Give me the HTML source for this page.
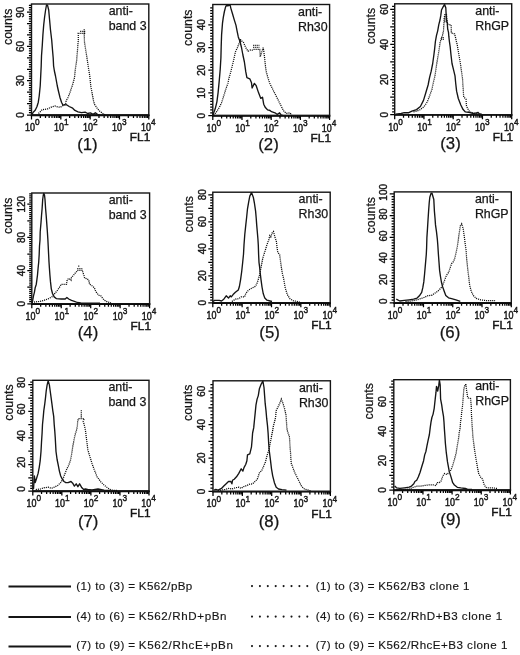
<!DOCTYPE html>
<html><head><meta charset="utf-8"><style>
html,body{margin:0;padding:0;background:#fff;}
svg{display:block;will-change:transform;}
text{font-family:"Liberation Sans",sans-serif;fill:#151515;stroke:#151515;stroke-width:0.25px;}
.tl{font-size:10px;stroke-width:0.4px;}
.xl{font-size:10.2px;stroke-width:0.45px;}
.sup{font-size:9.4px;}
.ax{font-size:12.4px;}
.fl{font-size:11.8px;letter-spacing:0.1px;stroke-width:0.45px;}
.pn{font-size:16.8px;}
.lg{font-size:11.6px;letter-spacing:0.4px;stroke-width:0.15px;}
</style></head><body>
<svg width="520" height="655" viewBox="0 0 520 655">
<rect width="520" height="655" fill="#fff"/>
<path d="M27 115H31.5M28.9 112.71H31.5M28.9 110.43H31.5M28.9 108.14H31.5M28.9 105.86H31.5M27 103.57H31.5M28.9 101.28H31.5M28.9 99H31.5M28.9 96.71H31.5M28.9 94.43H31.5M27 92.14H31.5M28.9 89.85H31.5M28.9 87.57H31.5M28.9 85.28H31.5M28.9 83H31.5M27 80.71H31.5M28.9 78.42H31.5M28.9 76.14H31.5M28.9 73.85H31.5M28.9 71.57H31.5M27 69.28H31.5M28.9 66.99H31.5M28.9 64.71H31.5M28.9 62.42H31.5M28.9 60.14H31.5M27 57.85H31.5M28.9 55.56H31.5M28.9 53.28H31.5M28.9 50.99H31.5M28.9 48.71H31.5M27 46.42H31.5M28.9 44.13H31.5M28.9 41.85H31.5M28.9 39.56H31.5M28.9 37.28H31.5M27 34.99H31.5M28.9 32.7H31.5M28.9 30.42H31.5M28.9 28.13H31.5M28.9 25.85H31.5M27 23.56H31.5M28.9 21.27H31.5M28.9 18.99H31.5M28.9 16.7H31.5M28.9 14.42H31.5M27 12.13H31.5M28.9 9.84H31.5M28.9 7.56H31.5M28.9 5.27H31.5M31.5 115V119.5M40.33 115V118M45.49 115V118M49.16 115V118M52 115V118M54.32 115V118M56.28 115V118M57.98 115V118M59.48 115V118M60.83 115V119.5M69.65 115V118M74.82 115V118M78.48 115V118M81.32 115V118M83.64 115V118M85.61 115V118M87.31 115V118M88.81 115V118M90.15 115V119.5M98.98 115V118M104.14 115V118M107.81 115V118M110.65 115V118M112.97 115V118M114.93 115V118M116.63 115V118M118.13 115V118M119.48 115V119.5M128.3 115V118M133.47 115V118M137.13 115V118M139.97 115V118M142.29 115V118M144.26 115V118M145.96 115V118M147.46 115V118M148.8 115V119.5" stroke="#000" stroke-width="1.25" fill="none"/>
<path d="M30.8 115.2H149.5" stroke="#000" stroke-width="1.9" fill="none"/>
<rect x="31.5" y="4" width="117.3" height="111" fill="none" stroke="#151515" stroke-width="1.4"/>
<polyline points="38.5,113.5 40,112 42.1,109.7 47.3,109 51.9,106.8 55,106 58,107 60.3,107.3 64.6,104.5 65.6,104.2 66.1,100.7 67.8,98 69.6,93.6 71.4,88.3 73.1,83 74.5,77.7 75.4,68.8 76.7,60 77.5,50 78.3,40 78.3,35 78.2,33.3 84.6,33.3 84.6,31.4 79.6,31.4" fill="none" stroke="#0a0a0a" stroke-width="1.25" stroke-dasharray="1.1 0.95"/>
<polyline points="84.2,29.2 84.2,35 84.5,42 85.4,48 86.5,55 87.3,60 88.6,68.8 90,77.7 90.8,86.5 92.2,93.6 93.5,100.7 94.4,104.2 96,106.5 97.5,108.8 99.9,111.3 102.9,113.5 105.2,114.8" fill="none" stroke="#0a0a0a" stroke-width="1.25" stroke-dasharray="1.1 0.95"/>
<polyline points="31.8,115.2 33,112.5 35.2,110.2 36.9,106.8 38.3,102.2 39.2,96 40.2,86 40.7,76 41.2,66 41.5,56 42.3,45 42.9,35 43.7,25 44.6,17 45.6,10 46.5,5 47.5,5.2 48.7,10 49.6,20 50.5,30 51.7,40 52.5,50 53.2,58 53.6,66 54.4,71 55.5,76 57.3,86 58.3,90.5 59.9,97.2 61.6,102.5 63,105.1 66.5,104.7 69.2,106.5 72.7,108.2 74.9,110.4 78,111.8 81.5,112.7 85.1,112.2 87.7,113.5 90.4,112.9 93,114.4 95.4,112.8 97.7,114.6 100,115.2" fill="none" stroke="#151515" stroke-width="1.35" stroke-linejoin="round"/>
<text class="tl" transform="translate(23.5 115) rotate(-90)" text-anchor="middle">0</text>
<text class="tl" transform="translate(23.5 80.71) rotate(-90)" text-anchor="middle">30</text>
<text class="tl" transform="translate(23.5 46.42) rotate(-90)" text-anchor="middle">60</text>
<text class="tl" transform="translate(23.5 12.13) rotate(-90)" text-anchor="middle">90</text>
<text class="xl" transform="translate(32.4 131) scale(0.88 1)" text-anchor="middle">10<tspan class="sup" dy="-5.8">0</tspan></text>
<text class="xl" transform="translate(61.38 131) scale(0.88 1)" text-anchor="middle">10<tspan class="sup" dy="-5.8">1</tspan></text>
<text class="xl" transform="translate(90.35 131) scale(0.88 1)" text-anchor="middle">10<tspan class="sup" dy="-5.8">2</tspan></text>
<text class="xl" transform="translate(119.33 131) scale(0.88 1)" text-anchor="middle">10<tspan class="sup" dy="-5.8">3</tspan></text>
<text class="xl" transform="translate(148.3 131) scale(0.88 1)" text-anchor="middle">10<tspan class="sup" dy="-5.8">4</tspan></text>
<text class="ax" transform="translate(12 26.8) rotate(-90)" text-anchor="middle">counts</text>
<text class="ax" x="108.7" y="15">anti-</text>
<text class="ax" x="108.7" y="30">band 3</text>
<text class="fl" x="150.4" y="141.3" text-anchor="end">FL1</text>
<text class="pn" x="87.45" y="149.5" text-anchor="middle">(1)</text>
<path d="M208.3 115.6H212.8M210.2 112.76H212.8M210.2 109.92H212.8M210.2 107.09H212.8M210.2 104.25H212.8M210.2 101.41H212.8M210.2 98.57H212.8M210.2 95.74H212.8M208.3 92.9H212.8M210.2 90.06H212.8M210.2 87.22H212.8M210.2 84.39H212.8M210.2 81.55H212.8M210.2 78.71H212.8M210.2 75.88H212.8M210.2 73.04H212.8M208.3 70.2H212.8M210.2 67.36H212.8M210.2 64.53H212.8M210.2 61.69H212.8M210.2 58.85H212.8M210.2 56.01H212.8M210.2 53.17H212.8M210.2 50.34H212.8M208.3 47.5H212.8M210.2 44.66H212.8M210.2 41.83H212.8M210.2 38.99H212.8M210.2 36.15H212.8M210.2 33.31H212.8M210.2 30.47H212.8M210.2 27.64H212.8M208.3 24.8H212.8M210.2 21.96H212.8M210.2 19.12H212.8M210.2 16.29H212.8M210.2 13.45H212.8M210.2 10.61H212.8M210.2 7.77H212.8M212.8 115.6V120.1M221.59 115.6V118.6M226.73 115.6V118.6M230.38 115.6V118.6M233.21 115.6V118.6M235.52 115.6V118.6M237.48 115.6V118.6M239.17 115.6V118.6M240.66 115.6V118.6M242 115.6V120.1M250.79 115.6V118.6M255.93 115.6V118.6M259.58 115.6V118.6M262.41 115.6V118.6M264.72 115.6V118.6M266.68 115.6V118.6M268.37 115.6V118.6M269.86 115.6V118.6M271.2 115.6V120.1M279.99 115.6V118.6M285.13 115.6V118.6M288.78 115.6V118.6M291.61 115.6V118.6M293.92 115.6V118.6M295.88 115.6V118.6M297.57 115.6V118.6M299.06 115.6V118.6M300.4 115.6V120.1M309.19 115.6V118.6M314.33 115.6V118.6M317.98 115.6V118.6M320.81 115.6V118.6M323.12 115.6V118.6M325.08 115.6V118.6M326.77 115.6V118.6M328.26 115.6V118.6M329.6 115.6V120.1" stroke="#000" stroke-width="1.25" fill="none"/>
<path d="M212.1 115.8H330.3" stroke="#000" stroke-width="1.9" fill="none"/>
<rect x="212.8" y="4.5" width="116.8" height="111.1" fill="none" stroke="#151515" stroke-width="1.4"/>
<polyline points="213.5,115.2 216.3,112.2 219.2,107.6 221.5,103 223.3,97.2 224.4,93.8 226.2,88 227.9,83.4 228.8,78.8 230.8,71.8 232.5,64.9 233.7,60 235.4,51.9 237.5,47.5 239,43.5 240.5,40 241.8,41 243.5,42.5 245.8,47.7 248.1,51.2 250.4,50 252.2,50.2 253.2,49.4 259.7,49.4 259.9,51 260.2,56.9 261.3,53.5 263.1,47.7 263.7,50.6 264.5,56.9 265.2,64 266.3,72 268.2,78.6 269.8,83.4 271.5,86.8 273.8,91.5 276.2,96.1 278.5,100.7 280.8,105.3 282.5,108.8 284.2,111.7 286.5,113.4 290,112.8 291.7,115.1" fill="none" stroke="#0a0a0a" stroke-width="1.25" stroke-dasharray="1.1 0.95"/>
<path d="M253.2 45.4H259.7" stroke="#0a0a0a" stroke-width="1.25" stroke-dasharray="1.1 0.95"/>
<path d="M253.2 47.3H259.7" stroke="#0a0a0a" stroke-width="1.25" stroke-dasharray="1.1 0.95"/>
<path d="M239.6 39.6H241.8" stroke="#0a0a0a" stroke-width="1.25" stroke-dasharray="1.1 0.95"/>
<path d="M239.6 41.6H241.8" stroke="#0a0a0a" stroke-width="1.25" stroke-dasharray="1.1 0.95"/>
<polyline points="212.8,115.4 213.5,113.4 215.2,108.8 216.9,101.8 218.1,92.6 219.2,81.1 220.2,69.5 220.9,58 221.2,46.2 221.6,34.6 222.5,23.1 223.3,17.3 224.4,11.5 225.6,6.9 226.5,5.2 228,5.8 229,5.2 230.2,5.4 230.8,8.1 232.5,13.8 234.2,19.6 236,25.4 237.1,31.2 238.3,36.9 240,41.5 241.5,47.5 242.9,55 244.4,62 245.8,71.9 246.9,77.7 249.8,78.8 251.5,82.8 252.1,88 254.4,83.4 256.2,85.7 258.5,92.6 260.8,98.4 262.5,97.2 263.7,104.2 265.4,107.6 267.7,109.9 270,110.5 271.5,111.7 275,112.8 277.3,114.5 279.6,112.8 281.3,115.1 283,115.3" fill="none" stroke="#151515" stroke-width="1.35" stroke-linejoin="round"/>
<text class="tl" transform="translate(204.6 115.6) rotate(-90)" text-anchor="middle">0</text>
<text class="tl" transform="translate(204.6 92.9) rotate(-90)" text-anchor="middle">10</text>
<text class="tl" transform="translate(204.6 70.2) rotate(-90)" text-anchor="middle">20</text>
<text class="tl" transform="translate(204.6 47.5) rotate(-90)" text-anchor="middle">30</text>
<text class="tl" transform="translate(204.6 24.8) rotate(-90)" text-anchor="middle">40</text>
<text class="xl" transform="translate(213.7 131.6) scale(0.88 1)" text-anchor="middle">10<tspan class="sup" dy="-5.8">0</tspan></text>
<text class="xl" transform="translate(242.55 131.6) scale(0.88 1)" text-anchor="middle">10<tspan class="sup" dy="-5.8">1</tspan></text>
<text class="xl" transform="translate(271.4 131.6) scale(0.88 1)" text-anchor="middle">10<tspan class="sup" dy="-5.8">2</tspan></text>
<text class="xl" transform="translate(300.25 131.6) scale(0.88 1)" text-anchor="middle">10<tspan class="sup" dy="-5.8">3</tspan></text>
<text class="xl" transform="translate(329.1 131.6) scale(0.88 1)" text-anchor="middle">10<tspan class="sup" dy="-5.8">4</tspan></text>
<text class="ax" transform="translate(191.5 27.7) rotate(-90)" text-anchor="middle">counts</text>
<text class="ax" x="298" y="15.8">anti-</text>
<text class="ax" x="298" y="31.2">Rh30</text>
<text class="fl" x="331.2" y="141.9" text-anchor="end">FL1</text>
<text class="pn" x="268.5" y="150.1" text-anchor="middle">(2)</text>
<path d="M390.2 114.7H394.7M392.1 111.77H394.7M392.1 108.84H394.7M392.1 105.92H394.7M392.1 102.99H394.7M392.1 100.06H394.7M390.2 97.13H394.7M392.1 94.2H394.7M392.1 91.27H394.7M392.1 88.34H394.7M392.1 85.42H394.7M392.1 82.49H394.7M390.2 79.56H394.7M392.1 76.63H394.7M392.1 73.7H394.7M392.1 70.78H394.7M392.1 67.85H394.7M392.1 64.92H394.7M390.2 61.99H394.7M392.1 59.06H394.7M392.1 56.13H394.7M392.1 53.2H394.7M392.1 50.28H394.7M392.1 47.35H394.7M390.2 44.42H394.7M392.1 41.49H394.7M392.1 38.56H394.7M392.1 35.64H394.7M392.1 32.71H394.7M392.1 29.78H394.7M390.2 26.85H394.7M392.1 23.92H394.7M392.1 20.99H394.7M392.1 18.06H394.7M392.1 15.14H394.7M392.1 12.21H394.7M390.2 9.28H394.7M392.1 6.35H394.7M394.7 114.7V119.2M403.51 114.7V117.7M408.66 114.7V117.7M412.31 114.7V117.7M415.14 114.7V117.7M417.46 114.7V117.7M419.42 114.7V117.7M421.12 114.7V117.7M422.61 114.7V117.7M423.95 114.7V119.2M432.76 114.7V117.7M437.91 114.7V117.7M441.56 114.7V117.7M444.39 114.7V117.7M446.71 114.7V117.7M448.67 114.7V117.7M450.37 114.7V117.7M451.86 114.7V117.7M453.2 114.7V119.2M462.01 114.7V117.7M467.16 114.7V117.7M470.81 114.7V117.7M473.64 114.7V117.7M475.96 114.7V117.7M477.92 114.7V117.7M479.62 114.7V117.7M481.11 114.7V117.7M482.45 114.7V119.2M491.26 114.7V117.7M496.41 114.7V117.7M500.06 114.7V117.7M502.89 114.7V117.7M505.21 114.7V117.7M507.17 114.7V117.7M508.87 114.7V117.7M510.36 114.7V117.7M511.7 114.7V119.2" stroke="#000" stroke-width="1.25" fill="none"/>
<path d="M394 114.9H512.4" stroke="#000" stroke-width="1.9" fill="none"/>
<rect x="394.7" y="3.8" width="117" height="110.9" fill="none" stroke="#151515" stroke-width="1.4"/>
<polyline points="413.5,111.9 416.5,111.2 420.4,109.6 424.2,106.5 427.3,101.9 429.6,95.8 431.9,89.6 433.5,81.9 435,75.8 436.5,65 438.1,55.8 439.2,49 440,43 440.8,40 442.3,36.2 443.5,30.8 443.8,25 444.2,18 445,14 446.5,14.5 447,20 447.5,24 449.2,24.6 451.2,25 451.3,33 453,33.5 454.6,34 455.4,37 456.5,42 457.3,45 458.8,54.2 460.4,63.5 461.6,72 462.5,78.5 463.1,87.7 463.7,96.9 466,99.2 466.5,106.2 467.7,108.5 468.8,110.8 471.2,112.5 474.6,113.1 478.1,113.7" fill="none" stroke="#0a0a0a" stroke-width="1.25" stroke-dasharray="1.1 0.95"/>
<path d="M444.3 16.3H446.6" stroke="#0a0a0a" stroke-width="1.25" stroke-dasharray="1.1 0.95"/>
<path d="M444.3 18.1H446.8" stroke="#0a0a0a" stroke-width="1.25" stroke-dasharray="1.1 0.95"/>
<path d="M444.3 19.9H447" stroke="#0a0a0a" stroke-width="1.25" stroke-dasharray="1.1 0.95"/>
<path d="M444.3 21.7H447" stroke="#0a0a0a" stroke-width="1.25" stroke-dasharray="1.1 0.95"/>
<path d="M441.2 37.5H444" stroke="#0a0a0a" stroke-width="1.25" stroke-dasharray="1.1 0.95"/>
<path d="M441.2 39.3H444" stroke="#0a0a0a" stroke-width="1.25" stroke-dasharray="1.1 0.95"/>
<polyline points="395.5,114.2 401.2,113.5 404.2,112.7 408.8,112.7 411.9,111.2 416.5,109.6 420.4,106.5 423.5,100.4 425.8,92.7 428.1,85 429.6,77.3 431.2,71.2 432.7,63.5 434,54 434.6,49.2 435.4,41.5 436.5,35.4 437.7,30.8 438.8,24.6 440,20 440.8,15.4 441.5,10 443.1,6.9 444.6,4.4 445.8,7.7 446.2,15.4 446.5,20 447.3,23.1 447.7,29.2 448.5,32.3 448.8,36.2 449.4,41.5 450.2,47 451,55 452,63.5 453.5,69.6 455,75.8 455.7,83.3 456.6,91.2 458.3,98.5 460.8,105 463.1,109.6 465.4,111.9 470,112.5 473.5,113.7 475.8,113.1 478.1,112.5 479.2,113.7 482,114.3" fill="none" stroke="#151515" stroke-width="1.35" stroke-linejoin="round"/>
<text class="tl" transform="translate(388.2 114.7) rotate(-90)" text-anchor="middle">0</text>
<text class="tl" transform="translate(388.2 79.56) rotate(-90)" text-anchor="middle">20</text>
<text class="tl" transform="translate(388.2 44.42) rotate(-90)" text-anchor="middle">40</text>
<text class="tl" transform="translate(388.2 9.28) rotate(-90)" text-anchor="middle">60</text>
<text class="xl" transform="translate(395.6 130.7) scale(0.88 1)" text-anchor="middle">10<tspan class="sup" dy="-5.8">0</tspan></text>
<text class="xl" transform="translate(424.5 130.7) scale(0.88 1)" text-anchor="middle">10<tspan class="sup" dy="-5.8">1</tspan></text>
<text class="xl" transform="translate(453.4 130.7) scale(0.88 1)" text-anchor="middle">10<tspan class="sup" dy="-5.8">2</tspan></text>
<text class="xl" transform="translate(482.3 130.7) scale(0.88 1)" text-anchor="middle">10<tspan class="sup" dy="-5.8">3</tspan></text>
<text class="xl" transform="translate(511.2 130.7) scale(0.88 1)" text-anchor="middle">10<tspan class="sup" dy="-5.8">4</tspan></text>
<text class="ax" transform="translate(375.2 26) rotate(-90)" text-anchor="middle">counts</text>
<text class="ax" x="475.3" y="14.8">anti-</text>
<text class="ax" x="475.3" y="29.6">RhGP</text>
<text class="fl" x="513.3" y="141" text-anchor="end">FL1</text>
<text class="pn" x="450.5" y="149.2" text-anchor="middle">(3)</text>
<path d="M27.3 303.8H31.8M29.2 301.73H31.8M29.2 299.65H31.8M29.2 297.57H31.8M29.2 295.5H31.8M29.2 293.43H31.8M29.2 291.35H31.8M29.2 289.28H31.8M27.3 287.2H31.8M29.2 285.12H31.8M29.2 283.05H31.8M29.2 280.98H31.8M29.2 278.9H31.8M29.2 276.82H31.8M29.2 274.75H31.8M29.2 272.68H31.8M27.3 270.6H31.8M29.2 268.53H31.8M29.2 266.45H31.8M29.2 264.38H31.8M29.2 262.3H31.8M29.2 260.23H31.8M29.2 258.15H31.8M29.2 256.08H31.8M27.3 254H31.8M29.2 251.93H31.8M29.2 249.85H31.8M29.2 247.78H31.8M29.2 245.7H31.8M29.2 243.63H31.8M29.2 241.55H31.8M29.2 239.48H31.8M27.3 237.4H31.8M29.2 235.33H31.8M29.2 233.25H31.8M29.2 231.18H31.8M29.2 229.1H31.8M29.2 227.03H31.8M29.2 224.95H31.8M29.2 222.88H31.8M27.3 220.8H31.8M29.2 218.73H31.8M29.2 216.65H31.8M29.2 214.58H31.8M29.2 212.5H31.8M29.2 210.43H31.8M29.2 208.35H31.8M29.2 206.28H31.8M27.3 204.2H31.8M29.2 202.13H31.8M29.2 200.05H31.8M29.2 197.98H31.8M29.2 195.9H31.8M29.2 193.83H31.8M31.8 303.8V308.3M40.67 303.8V306.8M45.85 303.8V306.8M49.53 303.8V306.8M52.38 303.8V306.8M54.72 303.8V306.8M56.69 303.8V306.8M58.4 303.8V306.8M59.9 303.8V306.8M61.25 303.8V308.3M70.12 303.8V306.8M75.3 303.8V306.8M78.98 303.8V306.8M81.83 303.8V306.8M84.17 303.8V306.8M86.14 303.8V306.8M87.85 303.8V306.8M89.35 303.8V306.8M90.7 303.8V308.3M99.57 303.8V306.8M104.75 303.8V306.8M108.43 303.8V306.8M111.28 303.8V306.8M113.62 303.8V306.8M115.59 303.8V306.8M117.3 303.8V306.8M118.8 303.8V306.8M120.15 303.8V308.3M129.02 303.8V306.8M134.2 303.8V306.8M137.88 303.8V306.8M140.73 303.8V306.8M143.07 303.8V306.8M145.04 303.8V306.8M146.75 303.8V306.8M148.25 303.8V306.8M149.6 303.8V308.3" stroke="#000" stroke-width="1.25" fill="none"/>
<path d="M31.1 304H150.3" stroke="#000" stroke-width="1.9" fill="none"/>
<rect x="31.8" y="193" width="117.8" height="110.8" fill="none" stroke="#151515" stroke-width="1.4"/>
<polyline points="34,302.1 39.2,301.5 43.8,300.4 48.5,298.7 51.9,296.9 54.8,293.5 57.7,290 60,286.5 61.2,284.3 66.5,284.3 67.2,279.5 69.2,278.5 71,280.2 71.5,277.3 73.5,275.4 74.6,273.5 76.2,272.3 77.3,270.4 82.7,270.4 82.7,272.3 83.8,274.6 84.6,278.1 87.3,278.8 88.8,280.4 89.6,284.2 91.5,285.4 94.4,287.7 95.6,291.2 98.5,295.2 100.8,295.8 102.5,298.1 104.5,300.3 107.5,302 111,302.9" fill="none" stroke="#0a0a0a" stroke-width="1.25" stroke-dasharray="1.1 0.95"/>
<polyline points="78.2,266.2 79.4,266.2" fill="none" stroke="#0a0a0a" stroke-width="1.25" stroke-dasharray="1.1 0.95"/>
<path d="M77.3 268.5H82.3" stroke="#0a0a0a" stroke-width="1.25" stroke-dasharray="1.1 0.95"/>
<polyline points="32.2,303.5 32.9,299.2 33.5,295.8 34.4,292.3 35.2,287.7 36.3,284.2 36.9,279.6 37.5,275 38.1,268.1 38.7,262.3 39.2,254.2 39.5,246 40,240 40.2,231.8 41,222.6 41.5,215.7 42.1,208.8 42.7,199.5 43.3,195 43.8,193.4 44.5,195 45,199.5 45.6,208.8 46.2,215.7 46.7,222.6 47.3,230.7 47.9,240 48.2,246 48.6,254 49,262 49.4,268 49.9,275 50.5,281.9 51.3,288.8 52.5,293.5 54.2,296.9 56.5,298.7 61.2,299 65.2,299 66.9,297.5 68.7,299 71.5,300.4 74.4,301.3 77.3,302.5 80.8,302.9 100,303.2" fill="none" stroke="#151515" stroke-width="1.35" stroke-linejoin="round"/>
<text class="tl" transform="translate(25.1 303.8) rotate(-90)" text-anchor="middle">0</text>
<text class="tl" transform="translate(25.1 270.6) rotate(-90)" text-anchor="middle">40</text>
<text class="tl" transform="translate(25.1 237.4) rotate(-90)" text-anchor="middle">80</text>
<text class="tl" transform="translate(25.1 204.2) rotate(-90)" text-anchor="middle">120</text>
<text class="xl" transform="translate(32.7 319.8) scale(0.88 1)" text-anchor="middle">10<tspan class="sup" dy="-5.8">0</tspan></text>
<text class="xl" transform="translate(61.8 319.8) scale(0.88 1)" text-anchor="middle">10<tspan class="sup" dy="-5.8">1</tspan></text>
<text class="xl" transform="translate(90.9 319.8) scale(0.88 1)" text-anchor="middle">10<tspan class="sup" dy="-5.8">2</tspan></text>
<text class="xl" transform="translate(120 319.8) scale(0.88 1)" text-anchor="middle">10<tspan class="sup" dy="-5.8">3</tspan></text>
<text class="xl" transform="translate(149.1 319.8) scale(0.88 1)" text-anchor="middle">10<tspan class="sup" dy="-5.8">4</tspan></text>
<text class="ax" transform="translate(12.25 215.8) rotate(-90)" text-anchor="middle">counts</text>
<text class="ax" x="108.7" y="204.2">anti-</text>
<text class="ax" x="108.7" y="218.8">band 3</text>
<text class="fl" x="151.2" y="330.1" text-anchor="end">FL1</text>
<text class="pn" x="88" y="338.3" text-anchor="middle">(4)</text>
<path d="M208.3 302.8H212.8M210.2 300.1H212.8M210.2 297.4H212.8M210.2 294.7H212.8M210.2 292H212.8M208.3 289.3H212.8M210.2 286.6H212.8M210.2 283.9H212.8M210.2 281.2H212.8M210.2 278.5H212.8M208.3 275.8H212.8M210.2 273.1H212.8M210.2 270.4H212.8M210.2 267.7H212.8M210.2 265H212.8M208.3 262.3H212.8M210.2 259.6H212.8M210.2 256.9H212.8M210.2 254.2H212.8M210.2 251.5H212.8M208.3 248.8H212.8M210.2 246.1H212.8M210.2 243.4H212.8M210.2 240.7H212.8M210.2 238H212.8M208.3 235.3H212.8M210.2 232.6H212.8M210.2 229.9H212.8M210.2 227.2H212.8M210.2 224.5H212.8M208.3 221.8H212.8M210.2 219.1H212.8M210.2 216.4H212.8M210.2 213.7H212.8M210.2 211H212.8M208.3 208.3H212.8M210.2 205.6H212.8M210.2 202.9H212.8M210.2 200.2H212.8M210.2 197.5H212.8M208.3 194.8H212.8M212.8 302.8V307.3M221.64 302.8V305.8M226.8 302.8V305.8M230.47 302.8V305.8M233.31 302.8V305.8M235.64 302.8V305.8M237.6 302.8V305.8M239.31 302.8V305.8M240.81 302.8V305.8M242.15 302.8V307.3M250.99 302.8V305.8M256.15 302.8V305.8M259.82 302.8V305.8M262.66 302.8V305.8M264.99 302.8V305.8M266.95 302.8V305.8M268.66 302.8V305.8M270.16 302.8V305.8M271.5 302.8V307.3M280.34 302.8V305.8M285.5 302.8V305.8M289.17 302.8V305.8M292.01 302.8V305.8M294.34 302.8V305.8M296.3 302.8V305.8M298.01 302.8V305.8M299.51 302.8V305.8M300.85 302.8V307.3M309.69 302.8V305.8M314.85 302.8V305.8M318.52 302.8V305.8M321.36 302.8V305.8M323.69 302.8V305.8M325.65 302.8V305.8M327.36 302.8V305.8M328.86 302.8V305.8M330.2 302.8V307.3" stroke="#000" stroke-width="1.25" fill="none"/>
<path d="M212.1 303H330.9" stroke="#000" stroke-width="1.9" fill="none"/>
<rect x="212.8" y="192.2" width="117.4" height="110.6" fill="none" stroke="#151515" stroke-width="1.4"/>
<polyline points="231.9,301.5 235.4,299.2 238.8,298.7 241.2,296.9 244.6,296.9 245.8,293.5 248.1,290.6 250.4,288.8 252.7,287.8 255,286.5 256.5,284.5 258,280.5 259.3,276 260.3,271 261.3,266 262.8,258 264.6,252.5 266.8,245.2 268.8,239.7 269.8,235.6 270.8,237 272.2,232.9 273.5,231.5 274.9,237 276.3,241.1 277.7,252.1 279.7,254.8 281.1,265.8 282.5,274 283.8,279.5 285.2,287.8 287.3,294.6 290,298.8 293.4,300.8 297.6,301.5 300.3,302.5" fill="none" stroke="#0a0a0a" stroke-width="1.25" stroke-dasharray="1.1 0.95"/>
<polyline points="213,301.5 214.6,300.4 219.2,300.4 221.5,301 223.8,299.2 226.2,295.8 228.5,298.1 230.2,295.8 231.3,296.9 233.1,294.6 235.4,292.3 238.3,290 239.4,286.5 240.6,279.6 241.7,271.5 242.7,262.3 243.5,254.2 244,245 244.8,234.2 245.8,224.9 246.7,216.8 247.5,208.8 248.7,201.8 249.8,196.1 251.5,192.6 253.3,197.2 254.4,203 255.6,211.1 256.2,218 256.7,224.9 257.3,231.8 257.9,238.8 258.3,245 258.6,254.2 259,262.3 259.6,267 260.3,273.8 261,279.6 262,287 263.2,293.5 264.8,298.1 267,300.2 270,301 272,301.5" fill="none" stroke="#151515" stroke-width="1.35" stroke-linejoin="round"/>
<text class="tl" transform="translate(206.1 302.8) rotate(-90)" text-anchor="middle">0</text>
<text class="tl" transform="translate(206.1 275.8) rotate(-90)" text-anchor="middle">20</text>
<text class="tl" transform="translate(206.1 248.8) rotate(-90)" text-anchor="middle">40</text>
<text class="tl" transform="translate(206.1 221.8) rotate(-90)" text-anchor="middle">60</text>
<text class="tl" transform="translate(206.1 194.8) rotate(-90)" text-anchor="middle">80</text>
<text class="xl" transform="translate(213.7 318.8) scale(0.88 1)" text-anchor="middle">10<tspan class="sup" dy="-5.8">0</tspan></text>
<text class="xl" transform="translate(242.7 318.8) scale(0.88 1)" text-anchor="middle">10<tspan class="sup" dy="-5.8">1</tspan></text>
<text class="xl" transform="translate(271.7 318.8) scale(0.88 1)" text-anchor="middle">10<tspan class="sup" dy="-5.8">2</tspan></text>
<text class="xl" transform="translate(300.7 318.8) scale(0.88 1)" text-anchor="middle">10<tspan class="sup" dy="-5.8">3</tspan></text>
<text class="xl" transform="translate(329.7 318.8) scale(0.88 1)" text-anchor="middle">10<tspan class="sup" dy="-5.8">4</tspan></text>
<text class="ax" transform="translate(193.3 214.3) rotate(-90)" text-anchor="middle">counts</text>
<text class="ax" x="298.6" y="203.2">anti-</text>
<text class="ax" x="298.6" y="218">Rh30</text>
<text class="fl" x="331.8" y="329.1" text-anchor="end">FL1</text>
<text class="pn" x="269.6" y="338" text-anchor="middle">(5)</text>
<path d="M389.7 302.8H394.2M391.6 300.07H394.2M391.6 297.35H394.2M391.6 294.62H394.2M391.6 291.9H394.2M391.6 289.18H394.2M391.6 286.45H394.2M391.6 283.73H394.2M389.7 281H394.2M391.6 278.28H394.2M391.6 275.55H394.2M391.6 272.82H394.2M391.6 270.1H394.2M391.6 267.38H394.2M391.6 264.65H394.2M391.6 261.93H394.2M389.7 259.2H394.2M391.6 256.48H394.2M391.6 253.75H394.2M391.6 251.03H394.2M391.6 248.3H394.2M391.6 245.58H394.2M391.6 242.85H394.2M391.6 240.12H394.2M389.7 237.4H394.2M391.6 234.68H394.2M391.6 231.95H394.2M391.6 229.23H394.2M391.6 226.5H394.2M391.6 223.78H394.2M391.6 221.05H394.2M391.6 218.32H394.2M389.7 215.6H394.2M391.6 212.88H394.2M391.6 210.15H394.2M391.6 207.43H394.2M391.6 204.7H394.2M391.6 201.98H394.2M391.6 199.25H394.2M391.6 196.53H394.2M389.7 193.8H394.2M394.2 302.8V307.3M403.01 302.8V305.8M408.17 302.8V305.8M411.83 302.8V305.8M414.66 302.8V305.8M416.98 302.8V305.8M418.94 302.8V305.8M420.64 302.8V305.8M422.14 302.8V305.8M423.48 302.8V307.3M432.29 302.8V305.8M437.44 302.8V305.8M441.1 302.8V305.8M443.94 302.8V305.8M446.26 302.8V305.8M448.22 302.8V305.8M449.91 302.8V305.8M451.41 302.8V305.8M452.75 302.8V307.3M461.56 302.8V305.8M466.72 302.8V305.8M470.38 302.8V305.8M473.21 302.8V305.8M475.53 302.8V305.8M477.49 302.8V305.8M479.19 302.8V305.8M480.69 302.8V305.8M482.02 302.8V307.3M490.84 302.8V305.8M495.99 302.8V305.8M499.65 302.8V305.8M502.49 302.8V305.8M504.81 302.8V305.8M506.77 302.8V305.8M508.46 302.8V305.8M509.96 302.8V305.8M511.3 302.8V307.3" stroke="#000" stroke-width="1.25" fill="none"/>
<path d="M393.5 303H512" stroke="#000" stroke-width="1.9" fill="none"/>
<rect x="394.2" y="191.9" width="117.1" height="110.9" fill="none" stroke="#151515" stroke-width="1.4"/>
<polyline points="405.5,301.5 411.3,301 417.1,299.8 420.5,298.7 424,297.5 427.5,295.8 432.1,295.2 434.4,293.5 437.8,291.2 440.2,288.8 442.5,286 444.3,281 446.5,275.2 448.7,272.3 450.1,268 451.6,263.6 453,262.2 454.5,259.3 455.9,253.5 457.4,246.2 458.8,236.1 460.3,226 461.7,223.8 463.2,228.8 464.6,239 466.1,250.6 466.8,260.7 468.3,273.8 469.7,285.4 471.2,291.2 473.3,295.5 476.2,298.4 480.6,299.9 486.4,300.6 495.1,300.6" fill="none" stroke="#0a0a0a" stroke-width="1.25" stroke-dasharray="1.1 0.95"/>
<polyline points="396.3,299.2 399.8,301 404.4,300.4 409,299.8 413.6,299.2 417.1,298.1 419.4,295.8 421.7,292.3 422.8,287.7 423.8,281.9 424.6,273.8 425.4,264.6 426.3,254.2 426.6,248 426.9,237.6 427.5,228.4 428,220.3 428.6,211.1 429.2,203 429.8,197.2 431,193.5 432,193.2 433.8,199.5 434.4,211.1 435,218 435.5,224.9 436.5,231.8 437.3,238.8 437.8,245 438.4,254.2 439,262.3 439.6,270.4 440.4,276 441.4,282 442.7,287 444.2,291.2 445.8,295.5 448.5,297.8 451.6,298.7 455.9,299.9 460.3,301.3" fill="none" stroke="#151515" stroke-width="1.35" stroke-linejoin="round"/>
<text class="tl" transform="translate(387 301.3) rotate(-90)" text-anchor="middle">0</text>
<text class="tl" transform="translate(387 279.5) rotate(-90)" text-anchor="middle">20</text>
<text class="tl" transform="translate(387 257.7) rotate(-90)" text-anchor="middle">40</text>
<text class="tl" transform="translate(387 235.9) rotate(-90)" text-anchor="middle">60</text>
<text class="tl" transform="translate(387 214.1) rotate(-90)" text-anchor="middle">80</text>
<text class="tl" transform="translate(387 192.3) rotate(-90)" text-anchor="middle">100</text>
<text class="xl" transform="translate(395.1 318.8) scale(0.88 1)" text-anchor="middle">10<tspan class="sup" dy="-5.8">0</tspan></text>
<text class="xl" transform="translate(424.02 318.8) scale(0.88 1)" text-anchor="middle">10<tspan class="sup" dy="-5.8">1</tspan></text>
<text class="xl" transform="translate(452.95 318.8) scale(0.88 1)" text-anchor="middle">10<tspan class="sup" dy="-5.8">2</tspan></text>
<text class="xl" transform="translate(481.87 318.8) scale(0.88 1)" text-anchor="middle">10<tspan class="sup" dy="-5.8">3</tspan></text>
<text class="xl" transform="translate(510.8 318.8) scale(0.88 1)" text-anchor="middle">10<tspan class="sup" dy="-5.8">4</tspan></text>
<text class="ax" transform="translate(375.1 215.2) rotate(-90)" text-anchor="middle">counts</text>
<text class="ax" x="474.9" y="203.2">anti-</text>
<text class="ax" x="474.9" y="218">RhGP</text>
<text class="fl" x="512.9" y="329.1" text-anchor="end">FL1</text>
<text class="pn" x="450.05" y="337.8" text-anchor="middle">(6)</text>
<path d="M28.3 491.1H32.8M30.2 488.44H32.8M30.2 485.78H32.8M30.2 483.12H32.8M30.2 480.46H32.8M28.3 477.8H32.8M30.2 475.14H32.8M30.2 472.48H32.8M30.2 469.82H32.8M30.2 467.16H32.8M28.3 464.5H32.8M30.2 461.84H32.8M30.2 459.18H32.8M30.2 456.52H32.8M30.2 453.86H32.8M28.3 451.2H32.8M30.2 448.54H32.8M30.2 445.88H32.8M30.2 443.22H32.8M30.2 440.56H32.8M28.3 437.9H32.8M30.2 435.24H32.8M30.2 432.58H32.8M30.2 429.92H32.8M30.2 427.26H32.8M28.3 424.6H32.8M30.2 421.94H32.8M30.2 419.28H32.8M30.2 416.62H32.8M30.2 413.96H32.8M28.3 411.3H32.8M30.2 408.64H32.8M30.2 405.98H32.8M30.2 403.32H32.8M30.2 400.66H32.8M28.3 398H32.8M30.2 395.34H32.8M30.2 392.68H32.8M30.2 390.02H32.8M30.2 387.36H32.8M28.3 384.7H32.8M30.2 382.04H32.8M32.8 491.1V495.6M41.54 491.1V494.1M46.66 491.1V494.1M50.29 491.1V494.1M53.11 491.1V494.1M55.41 491.1V494.1M57.35 491.1V494.1M59.03 491.1V494.1M60.52 491.1V494.1M61.85 491.1V495.6M70.59 491.1V494.1M75.71 491.1V494.1M79.34 491.1V494.1M82.16 491.1V494.1M84.46 491.1V494.1M86.4 491.1V494.1M88.08 491.1V494.1M89.57 491.1V494.1M90.9 491.1V495.6M99.64 491.1V494.1M104.76 491.1V494.1M108.39 491.1V494.1M111.21 491.1V494.1M113.51 491.1V494.1M115.45 491.1V494.1M117.13 491.1V494.1M118.62 491.1V494.1M119.95 491.1V495.6M128.69 491.1V494.1M133.81 491.1V494.1M137.44 491.1V494.1M140.26 491.1V494.1M142.56 491.1V494.1M144.5 491.1V494.1M146.18 491.1V494.1M147.67 491.1V494.1M149 491.1V495.6" stroke="#000" stroke-width="1.25" fill="none"/>
<path d="M32.1 491.3H149.7" stroke="#000" stroke-width="1.9" fill="none"/>
<rect x="32.8" y="380.3" width="116.2" height="110.8" fill="none" stroke="#151515" stroke-width="1.4"/>
<polyline points="35.8,489.5 40.4,489 43.8,487.8 48.5,487.2 51.3,488.4 54.2,487.2 57.7,485.5 60.6,482.6 62.9,479.2 64.6,474.5 66.9,468.8 68.7,465.3 70.4,460.7 71.5,454.9 72.7,446.8 73.8,441.1 75,435.3 75.6,433 76.2,431.4 77.3,426.8 77.7,421 78.4,418.6 84.2,418.6 83.2,421.5 84.2,424.5 85.4,430.2 86.4,438 87.8,449.6 89.9,456.7 92.1,463.8 94.2,469.5 97,476.6 100.6,481.6 104.1,485.1 107.7,487.9 111.2,490.1 116.9,490.5" fill="none" stroke="#0a0a0a" stroke-width="1.25" stroke-dasharray="1.1 0.95"/>
<polyline points="81.3,410.2 81.3,417.6" fill="none" stroke="#0a0a0a" stroke-width="1.25" stroke-dasharray="1.1 0.95"/>
<polyline points="33.5,489 34,482 34.4,476 35.2,482.6 36.3,479.2 38.1,473.4 39.2,467.6 40.2,460.7 41,451.5 41.5,442.2 42.1,433 42.5,424.5 43.3,416.4 43.8,410.6 44.8,403.7 45.6,396.8 46.2,391 47.1,385.2 48.2,380.6 49.4,385.2 50.2,391 51,396.8 51.9,403.7 52.8,410.6 53.7,416.4 54.2,424.5 54.8,431.4 55.2,437 56,451.5 57.1,459.5 58.3,465.3 59.4,471.1 60.6,475.7 62.3,479.2 64,481.5 65.8,482.6 68.1,482.6 71,481.5 72.7,483.2 74.4,486.1 76.2,483.8 77.9,486.7 79.6,483.8 81.9,487.8 83.7,489.5 85.4,489 87.7,489.5 92,490 98,489 104,490.2 110,490.5" fill="none" stroke="#151515" stroke-width="1.35" stroke-linejoin="round"/>
<text class="tl" transform="translate(25.1 488.9) rotate(-90)" text-anchor="middle">0</text>
<text class="tl" transform="translate(25.1 462.3) rotate(-90)" text-anchor="middle">20</text>
<text class="tl" transform="translate(25.1 435.7) rotate(-90)" text-anchor="middle">40</text>
<text class="tl" transform="translate(25.1 409.1) rotate(-90)" text-anchor="middle">60</text>
<text class="tl" transform="translate(25.1 382.5) rotate(-90)" text-anchor="middle">80</text>
<text class="xl" transform="translate(33.7 507.1) scale(0.88 1)" text-anchor="middle">10<tspan class="sup" dy="-5.8">0</tspan></text>
<text class="xl" transform="translate(62.4 507.1) scale(0.88 1)" text-anchor="middle">10<tspan class="sup" dy="-5.8">1</tspan></text>
<text class="xl" transform="translate(91.1 507.1) scale(0.88 1)" text-anchor="middle">10<tspan class="sup" dy="-5.8">2</tspan></text>
<text class="xl" transform="translate(119.8 507.1) scale(0.88 1)" text-anchor="middle">10<tspan class="sup" dy="-5.8">3</tspan></text>
<text class="xl" transform="translate(148.5 507.1) scale(0.88 1)" text-anchor="middle">10<tspan class="sup" dy="-5.8">4</tspan></text>
<text class="ax" transform="translate(13.25 402.5) rotate(-90)" text-anchor="middle">counts</text>
<text class="ax" x="108.4" y="391.3">anti-</text>
<text class="ax" x="108.4" y="406">band 3</text>
<text class="fl" x="150.6" y="517.4" text-anchor="end">FL1</text>
<text class="pn" x="88.2" y="527.1" text-anchor="middle">(7)</text>
<path d="M208.5 491.4H213M210.4 488.06H213M210.4 484.72H213M210.4 481.38H213M210.4 478.04H213M208.5 474.7H213M210.4 471.36H213M210.4 468.02H213M210.4 464.68H213M210.4 461.34H213M208.5 458H213M210.4 454.66H213M210.4 451.32H213M210.4 447.98H213M210.4 444.64H213M208.5 441.3H213M210.4 437.96H213M210.4 434.62H213M210.4 431.28H213M210.4 427.94H213M208.5 424.6H213M210.4 421.26H213M210.4 417.92H213M210.4 414.58H213M210.4 411.24H213M208.5 407.9H213M210.4 404.56H213M210.4 401.22H213M210.4 397.88H213M210.4 394.54H213M208.5 391.2H213M210.4 387.86H213M210.4 384.52H213M213 491.4V495.9M221.84 491.4V494.4M227 491.4V494.4M230.67 491.4V494.4M233.51 491.4V494.4M235.84 491.4V494.4M237.8 491.4V494.4M239.51 491.4V494.4M241.01 491.4V494.4M242.35 491.4V495.9M251.19 491.4V494.4M256.35 491.4V494.4M260.02 491.4V494.4M262.86 491.4V494.4M265.19 491.4V494.4M267.15 491.4V494.4M268.86 491.4V494.4M270.36 491.4V494.4M271.7 491.4V495.9M280.54 491.4V494.4M285.7 491.4V494.4M289.37 491.4V494.4M292.21 491.4V494.4M294.54 491.4V494.4M296.5 491.4V494.4M298.21 491.4V494.4M299.71 491.4V494.4M301.05 491.4V495.9M309.89 491.4V494.4M315.05 491.4V494.4M318.72 491.4V494.4M321.56 491.4V494.4M323.89 491.4V494.4M325.85 491.4V494.4M327.56 491.4V494.4M329.06 491.4V494.4M330.4 491.4V495.9" stroke="#000" stroke-width="1.25" fill="none"/>
<path d="M212.3 491.6H331.1" stroke="#000" stroke-width="1.9" fill="none"/>
<rect x="213" y="380.8" width="117.4" height="110.6" fill="none" stroke="#151515" stroke-width="1.4"/>
<polyline points="218.1,490.7 221.5,490.1 225,489.5 228.5,488.4 231.9,489 235.4,487.8 238.8,487.2 241.2,488.4 243.5,486.7 246.9,485.5 249.2,484.3 252.7,483.8 255,481.5 257.3,479.2 258.5,475.7 259.6,472.2 261.5,471 263.3,467 265.4,462 267.2,455 269,449.5 270.4,442.3 271.5,436.3 272.6,431 273.5,425.5 274.4,422.2 275.6,417.5 276.2,410.6 277.9,407.2 279.6,403.7 281.3,399.1 283.1,403.7 284.8,409.5 286,415.2 286.5,422.2 286.8,427.9 287.7,432 289.4,436.5 290,445.8 290.6,453.8 291.2,463.1 292.9,467.7 294.6,472.3 296.9,476.9 299.2,481.5 301.5,486.2 304.4,489 308.5,490.2 310.8,491" fill="none" stroke="#0a0a0a" stroke-width="1.25" stroke-dasharray="1.1 0.95"/>
<polyline points="214,490.1 215.8,489.5 218.1,490.1 221.5,488.4 223.8,486.1 226.2,483.8 228.5,481.5 230.8,481.5 231.9,483.8 232.5,480.3 234.2,479.2 236.5,476.8 238.8,473.4 241.2,468.8 242.9,471.1 244,467.6 245.8,464.2 246.9,460.7 247.5,454.9 249.8,453.8 251.5,446.8 252.1,439.9 252.6,433 253.7,427.9 254.5,419.8 255.2,412.9 256,404.8 257.1,399.1 258.3,395.6 259.4,388.7 261.2,384.1 262.9,381.2 264,387.5 264.6,395.6 265.2,403.7 266,410.6 266.7,418.7 267.5,425.6 268.1,433 268.7,443.5 269.2,450.4 270.4,459.6 271.5,468.8 272.7,475.8 274.4,482.7 276.2,487.3 278.5,489 281.9,489.6 286.5,490.2" fill="none" stroke="#151515" stroke-width="1.35" stroke-linejoin="round"/>
<text class="tl" transform="translate(205 491.4) rotate(-90)" text-anchor="middle">0</text>
<text class="tl" transform="translate(205 458) rotate(-90)" text-anchor="middle">20</text>
<text class="tl" transform="translate(205 424.6) rotate(-90)" text-anchor="middle">40</text>
<text class="tl" transform="translate(205 391.2) rotate(-90)" text-anchor="middle">60</text>
<text class="xl" transform="translate(213.9 507.4) scale(0.88 1)" text-anchor="middle">10<tspan class="sup" dy="-5.8">0</tspan></text>
<text class="xl" transform="translate(242.9 507.4) scale(0.88 1)" text-anchor="middle">10<tspan class="sup" dy="-5.8">1</tspan></text>
<text class="xl" transform="translate(271.9 507.4) scale(0.88 1)" text-anchor="middle">10<tspan class="sup" dy="-5.8">2</tspan></text>
<text class="xl" transform="translate(300.9 507.4) scale(0.88 1)" text-anchor="middle">10<tspan class="sup" dy="-5.8">3</tspan></text>
<text class="xl" transform="translate(329.9 507.4) scale(0.88 1)" text-anchor="middle">10<tspan class="sup" dy="-5.8">4</tspan></text>
<text class="ax" transform="translate(191.5 402.8) rotate(-90)" text-anchor="middle">counts</text>
<text class="ax" x="298.9" y="391.8">anti-</text>
<text class="ax" x="298.9" y="406.5">Rh30</text>
<text class="fl" x="332" y="517.7" text-anchor="end">FL1</text>
<text class="pn" x="269" y="527.4" text-anchor="middle">(8)</text>
<path d="M389.3 490H393.8M391.2 487.06H393.8M391.2 484.12H393.8M391.2 481.18H393.8M391.2 478.24H393.8M389.3 475.3H393.8M391.2 472.36H393.8M391.2 469.42H393.8M391.2 466.48H393.8M391.2 463.54H393.8M389.3 460.6H393.8M391.2 457.66H393.8M391.2 454.72H393.8M391.2 451.78H393.8M391.2 448.84H393.8M389.3 445.9H393.8M391.2 442.96H393.8M391.2 440.02H393.8M391.2 437.08H393.8M391.2 434.14H393.8M389.3 431.2H393.8M391.2 428.26H393.8M391.2 425.32H393.8M391.2 422.38H393.8M391.2 419.44H393.8M389.3 416.5H393.8M391.2 413.56H393.8M391.2 410.62H393.8M391.2 407.68H393.8M391.2 404.74H393.8M389.3 401.8H393.8M391.2 398.86H393.8M391.2 395.92H393.8M391.2 392.98H393.8M391.2 390.04H393.8M389.3 387.1H393.8M391.2 384.16H393.8M391.2 381.22H393.8M393.8 490V494.5M402.58 490V493M407.71 490V493M411.35 490V493M414.17 490V493M416.48 490V493M418.43 490V493M420.13 490V493M421.62 490V493M422.95 490V494.5M431.73 490V493M436.86 490V493M440.5 490V493M443.32 490V493M445.63 490V493M447.58 490V493M449.28 490V493M450.77 490V493M452.1 490V494.5M460.88 490V493M466.01 490V493M469.65 490V493M472.47 490V493M474.78 490V493M476.73 490V493M478.43 490V493M479.92 490V493M481.25 490V494.5M490.03 490V493M495.16 490V493M498.8 490V493M501.62 490V493M503.93 490V493M505.88 490V493M507.58 490V493M509.07 490V493M510.4 490V494.5" stroke="#000" stroke-width="1.25" fill="none"/>
<path d="M393.1 490.2H511.1" stroke="#000" stroke-width="1.9" fill="none"/>
<rect x="393.8" y="379.7" width="116.6" height="110.3" fill="none" stroke="#151515" stroke-width="1.4"/>
<polyline points="396.5,490.1 399.9,489.5 404.5,489.5 409.2,489 413.8,487.2 417.2,486.1 420.7,486.1 424.2,485.5 428.8,484.9 433.4,484.9 435.7,485.5 437.4,482.6 439.2,482.6 440.9,481.5 442.9,475.8 444.6,473.5 446.9,474.6 449.2,472.3 451,470 452.7,465.4 454.4,459.6 456.2,452.7 457.3,445.8 458.5,438.8 459.3,432 460.2,427.9 460.5,422.2 461.3,416.4 461.9,410.6 462.5,406 463.1,399.1 463.7,390.4 464.8,384.7 466,384.7 466.5,389.8 467.7,397.9 470.6,398.5 471.2,404.8 471.4,412.9 471.9,422.2 472.3,427.9 472.9,436.5 474,445.8 475.2,453.8 476.3,460.8 477.5,467.7 478.7,473.5 480.4,476.9 482.7,479.2 483.8,483.8 485.6,487.3 488.5,487.9 493.1,487.9 497.7,488.5" fill="none" stroke="#0a0a0a" stroke-width="1.25" stroke-dasharray="1.1 0.95"/>
<polyline points="394.7,486.1 396.5,487.8 399.9,488.4 404.5,487.8 409.2,487.2 411.5,486.1 413.8,483.8 414.9,481.5 416.7,480.3 418.4,476.8 420.1,472.2 421.8,466.5 423.6,460.7 424.7,454.9 425.9,451.5 427,445.7 428.2,439.9 429.4,434.5 430.2,427.9 431,422.2 431.9,417.5 433.1,414.1 434.2,408.3 435.2,399.1 436,392.2 436.5,386.4 437.7,391 438.8,385.2 439.4,380.2 440.2,385.2 440.6,399.1 441.7,404.8 442.5,410.6 443.5,416.4 444,422.2 444.4,429.1 444.9,436 445.4,443.5 446.3,452.7 447.5,461.9 449.2,471.2 451,476.9 452.7,482.7 454.4,485 457.3,487.3 460.8,487.9 465.4,488.5 467.7,489.4 472,489.5" fill="none" stroke="#151515" stroke-width="1.35" stroke-linejoin="round"/>
<text class="tl" transform="translate(385.8 490) rotate(-90)" text-anchor="middle">0</text>
<text class="tl" transform="translate(385.8 460.6) rotate(-90)" text-anchor="middle">20</text>
<text class="tl" transform="translate(385.8 431.2) rotate(-90)" text-anchor="middle">40</text>
<text class="tl" transform="translate(385.8 401.8) rotate(-90)" text-anchor="middle">60</text>
<text class="xl" transform="translate(394.7 506) scale(0.88 1)" text-anchor="middle">10<tspan class="sup" dy="-5.8">0</tspan></text>
<text class="xl" transform="translate(423.5 506) scale(0.88 1)" text-anchor="middle">10<tspan class="sup" dy="-5.8">1</tspan></text>
<text class="xl" transform="translate(452.3 506) scale(0.88 1)" text-anchor="middle">10<tspan class="sup" dy="-5.8">2</tspan></text>
<text class="xl" transform="translate(481.1 506) scale(0.88 1)" text-anchor="middle">10<tspan class="sup" dy="-5.8">3</tspan></text>
<text class="xl" transform="translate(509.9 506) scale(0.88 1)" text-anchor="middle">10<tspan class="sup" dy="-5.8">4</tspan></text>
<text class="ax" transform="translate(372.9 401.3) rotate(-90)" text-anchor="middle">counts</text>
<text class="ax" x="475.2" y="389.8">anti-</text>
<text class="ax" x="475.2" y="404.8">RhGP</text>
<text class="fl" x="512" y="516.3" text-anchor="end">FL1</text>
<text class="pn" x="450.6" y="525.3" text-anchor="middle">(9)</text>
<path d="M8.5 586.5H71" stroke="#151515" stroke-width="2"/>
<text class="lg" x="76.2" y="590">(1) to (3) = </text>
<text class="lg" x="138.8" y="590" style="letter-spacing:0.36px">K562/pBp</text>
<g fill="#151515"><circle cx="252" cy="586.1" r="1.05"/><circle cx="259.9" cy="586.1" r="1.05"/><circle cx="267.8" cy="586.1" r="1.05"/><circle cx="275.7" cy="586.1" r="1.05"/><circle cx="283.6" cy="586.1" r="1.05"/><circle cx="291.5" cy="586.1" r="1.05"/><circle cx="299.4" cy="586.1" r="1.05"/><circle cx="307.3" cy="586.1" r="1.05"/></g>
<text class="lg" x="315.7" y="590">(1) to (3) = </text>
<text class="lg" x="378.2" y="590" style="letter-spacing:0.44px">K562/B3 clone 1</text>
<path d="M8.5 617H71" stroke="#151515" stroke-width="2"/>
<text class="lg" x="76.2" y="619.5">(4) to (6) = </text>
<text class="lg" x="138.8" y="619.5" style="letter-spacing:0.62px">K562/RhD+pBn</text>
<g fill="#151515"><circle cx="252" cy="616.6" r="1.05"/><circle cx="259.9" cy="616.6" r="1.05"/><circle cx="267.8" cy="616.6" r="1.05"/><circle cx="275.7" cy="616.6" r="1.05"/><circle cx="283.6" cy="616.6" r="1.05"/><circle cx="291.5" cy="616.6" r="1.05"/><circle cx="299.4" cy="616.6" r="1.05"/><circle cx="307.3" cy="616.6" r="1.05"/></g>
<text class="lg" x="315.7" y="619.5">(4) to (6) = </text>
<text class="lg" x="378.2" y="619.5" style="letter-spacing:0.5px">K562/RhD+B3 clone 1</text>
<path d="M8.5 646.5H71" stroke="#151515" stroke-width="2"/>
<text class="lg" x="76.2" y="649.3">(7) to (9) = </text>
<text class="lg" x="138.8" y="649.3" style="letter-spacing:0.67px">K562/RhcE+pBn</text>
<g fill="#151515"><circle cx="252" cy="646.1" r="1.05"/><circle cx="259.9" cy="646.1" r="1.05"/><circle cx="267.8" cy="646.1" r="1.05"/><circle cx="275.7" cy="646.1" r="1.05"/><circle cx="283.6" cy="646.1" r="1.05"/><circle cx="291.5" cy="646.1" r="1.05"/><circle cx="299.4" cy="646.1" r="1.05"/><circle cx="307.3" cy="646.1" r="1.05"/></g>
<text class="lg" x="315.7" y="649.3">(7) to (9) = </text>
<text class="lg" x="378.2" y="649.3" style="letter-spacing:0.47px">K562/RhcE+B3 clone 1</text>
</svg>
</body></html>
